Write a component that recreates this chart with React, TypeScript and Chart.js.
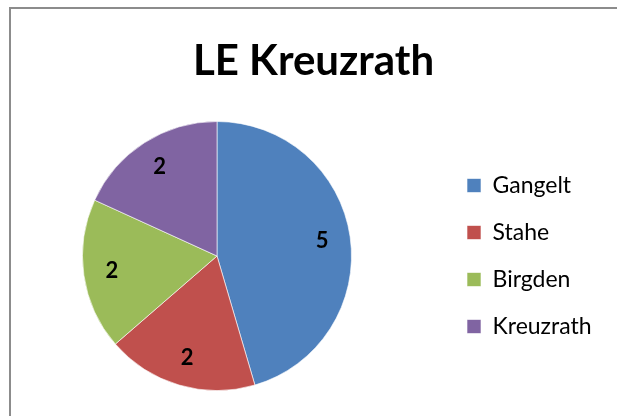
import React, { useEffect, useRef } from "react";
import { Chart, registerables } from "chart.js";

Chart.register(...registerables);

const title = "LE Kreuzrath";
const categories = ["Gangelt", "Stahe", "Birgden", "Kreuzrath"];
const values = [5, 2, 2, 2];
const colors = ["#4F81BD", "#C0504D", "#9BBB59", "#8064A2"];

const FONT = "Lato, 'Open Sans', sans-serif";
const CANVAS_W = 700;
const CANVAS_H = 416;
const OFFSET_X = -9;
const LEGEND_FONT = 23;
const LEGEND_PAD = 24;
const BOX_W = 14;

const titlePlugin = {
  id: "excelTitle",
  afterDraw(chart: any) {
    const ctx = chart.ctx;
    ctx.save();
    ctx.font = `bold 42px ${FONT}`;
    ctx.fillStyle = "#000";
    ctx.textAlign = "center";
    ctx.textBaseline = "alphabetic";
    ctx.fillText(title, 313.5 - OFFSET_X, 75);
    ctx.restore();
  },
};

const labelPlugin = {
  id: "sliceLabels",
  afterDatasetsDraw(chart: any) {
    const ctx = chart.ctx;
    const meta = chart.getDatasetMeta(0);
    ctx.save();
    ctx.font = `bold 22px ${FONT}`;
    ctx.fillStyle = "#000";
    ctx.textAlign = "center";
    ctx.textBaseline = "middle";
    meta.data.forEach((arc: any, i: number) => {
      const p = arc.getProps(["x", "y", "startAngle", "endAngle", "outerRadius"], true);
      const mid = (p.startAngle + p.endAngle) / 2;
      const r = p.outerRadius * 0.79;
      ctx.fillText(String(values[i]), p.x + Math.cos(mid) * r, p.y + Math.sin(mid) * r);
    });
    ctx.restore();
  },
};

export default function App() {
  const ref = useRef<HTMLCanvasElement | null>(null);
  useEffect(() => {
    const canvas = ref.current!;
    const mctx = canvas.getContext("2d")!;
    mctx.font = `${LEGEND_FONT}px ${FONT}`;
    let textW = 0;
    categories.forEach((c) => (textW = Math.max(textW, mctx.measureText(c).width)));
    const legendLeft = 476 - LEGEND_PAD;
    const legendW = LEGEND_PAD + BOX_W + LEGEND_FONT / 2 + textW + 10;
    const padRight = Math.max(0, CANVAS_W - legendLeft - legendW);

    const chart = new Chart(canvas, {
      type: "pie",
      data: {
        labels: categories,
        datasets: [
          {
            data: values,
            backgroundColor: colors,
            borderColor: "rgba(255,255,255,0.6)",
            borderWidth: 1,
          },
        ],
      },
      options: {
        animation: false,
        responsive: false,
        devicePixelRatio: 1,
        layout: { padding: { left: 0, right: padRight, top: 121, bottom: 25 } },
        plugins: {
          title: { display: false },
          legend: {
            position: "right",
            fullSize: false,
            labels: {
              color: "#000",
              font: { family: FONT, size: LEGEND_FONT },
              boxWidth: BOX_W,
              boxHeight: 14,
              padding: LEGEND_PAD,
            },
          },
          tooltip: { enabled: false },
        },
      },
      plugins: [labelPlugin, titlePlugin],
    });
    return () => chart.destroy();
  }, []);

  return (
    <div
      style={{
        position: "fixed",
        left: 0,
        top: 0,
        width: 617,
        height: 416,
        overflow: "hidden",
        background: "#fff",
      }}
    >
      <div
        style={{
          position: "absolute",
          left: 9,
          top: 7,
          width: 800,
          height: 600,
          borderLeft: "2px solid #8c8c8c",
          borderTop: "2px solid #8c8c8c",
        }}
      />
      <canvas
        ref={ref}
        width={CANVAS_W}
        height={CANVAS_H}
        style={{ position: "absolute", left: OFFSET_X, top: 0, width: CANVAS_W, height: CANVAS_H }}
      />
    </div>
  );
}
